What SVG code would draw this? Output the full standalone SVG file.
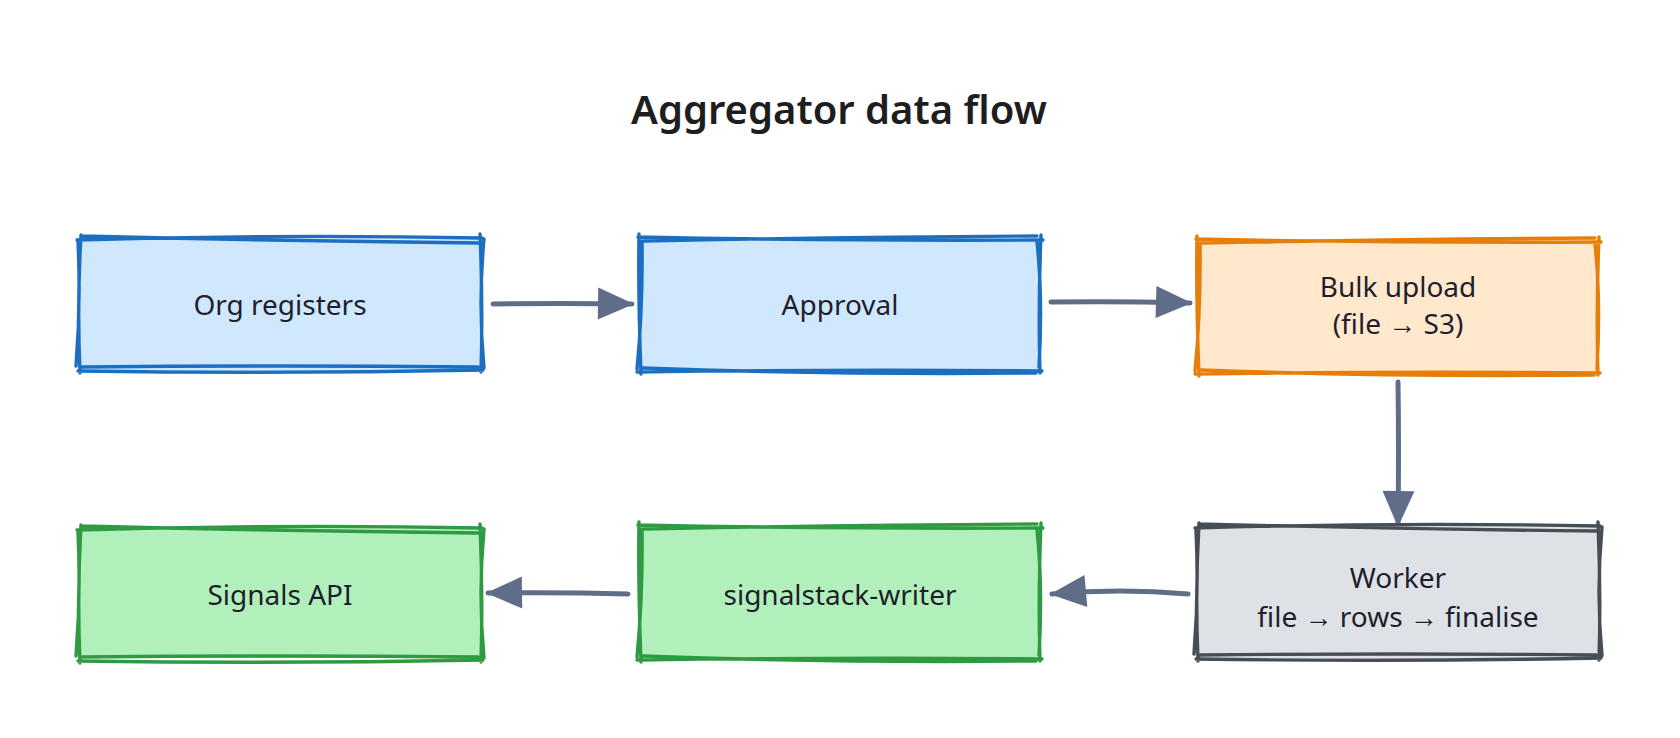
<svg xmlns="http://www.w3.org/2000/svg" xmlns:xlink="http://www.w3.org/1999/xlink" width="1680" height="738" viewBox="0 0 1680 738">
  <style>
    .bg { fill: #ffffff; }
    .title { font-family: "Noto Sans", "Liberation Sans", sans-serif; font-size: 40px; font-weight: 600; fill: #1e1e1e; text-anchor: middle; }
    .label { font-family: "Noto Sans", "Liberation Sans", sans-serif; font-size: 28px; fill: #1e1e2e; text-anchor: middle; }
    .edge { fill: none; stroke: #5f6d88; stroke-width: 5; stroke-linecap: round; }
    .out { fill: none; stroke-width: 3.4; stroke-linecap: round; stroke-linejoin: round; }
    .blue .fillr { fill: #d0e8fd; } .blue .out { stroke: #1c6fc0; }
    .orange .fillr { fill: #ffe8cc; } .orange .out { stroke: #e67e0c; }
    .gray .fillr { fill: #dee2e6; } .gray .out { stroke: #474d55; }
    .green .fillr { fill: #b2f0bb; } .green .out { stroke: #2e9a42; }
  </style>
  <defs>
    <marker id="head" markerUnits="userSpaceOnUse" markerWidth="40" markerHeight="38" refX="36" refY="19" orient="auto">
      <path d="M2 3 L38 19 L2 35 Z" fill="#5f6d88"/>
    </marker>
    <path id="sketchA" d="M-3 2 Q200 -4 402 0 M400 -4 Q403 66 401 134 M403 132 Q200 136 -2 133 M0 135 Q-3 66 1 -3 M2 -2 Q200 3 398 5 M404 1 Q398 66 404 130 M398 129 Q200 127 2 129 M-4 128 Q1 66 -2 4"/>
    <path id="sketchB" d="M-2 -1 Q190 3 403 2 M401 -3 Q398 70 400 135 M402 133 Q210 131 -3 134 M1 136 Q-2 60 -1 -4 M4 3 Q210 -1 397 -2 M397 4 Q403 60 399 129 M396 135 Q190 137 3 130 M-3 131 Q3 70 2 3"/>
  </defs>
  <rect class="bg" x="0" y="0" width="1680" height="738"/>
  <text class="title" x="839" y="124">Aggregator data flow</text>

  <g id="edges">
    <path class="edge" d="M493 304 Q560 303 632 304" marker-end="url(#head)"/>
    <path class="edge" d="M1051 302 Q1120 301 1190 303" marker-end="url(#head)"/>
    <path class="edge" d="M1398 382 Q1399 450 1398 525" marker-end="url(#head)"/>
    <path class="edge" d="M1188 594 Q1120 588 1052 594" marker-end="url(#head)"/>
    <path class="edge" d="M628 594 Q560 592 488 593" marker-end="url(#head)"/>
  </g>

  <g id="org-registers" class="blue">
    <rect class="fillr" x="80" y="238" width="400" height="132"/>
    <use href="#sketchA" class="out" x="80" y="238"/>
    <text class="label" x="280" y="315">Org registers</text>
  </g>
  <g id="approval" class="blue">
    <rect class="fillr" x="640" y="238" width="400" height="132"/>
    <use href="#sketchB" class="out" x="640" y="238"/>
    <text class="label" x="840" y="315">Approval</text>
  </g>
  <g id="bulk-upload" class="orange">
    <rect class="fillr" x="1198" y="240" width="400" height="132"/>
    <use href="#sketchB" class="out" x="1198" y="240"/>
    <text class="label" x="1398" y="297">Bulk upload</text>
    <text class="label" x="1398" y="334"> (file → S3)</text>
  </g>
  <g id="worker" class="gray">
    <rect class="fillr" x="1198" y="526" width="400" height="132"/>
    <use href="#sketchA" class="out" x="1198" y="526"/>
    <text class="label" x="1398" y="588">Worker</text>
    <text class="label" x="1398" y="627">file → rows → finalise</text>
  </g>
  <g id="signalstack-writer" class="green">
    <rect class="fillr" x="640" y="526" width="400" height="132"/>
    <use href="#sketchB" class="out" x="640" y="526"/>
    <text class="label" x="840" y="605">signalstack-writer</text>
  </g>
  <g id="signals-api" class="green">
    <rect class="fillr" x="80" y="528" width="400" height="130"/>
    <use href="#sketchA" class="out" x="80" y="528"/>
    <text class="label" x="280" y="605">Signals API</text>
  </g>
</svg>
